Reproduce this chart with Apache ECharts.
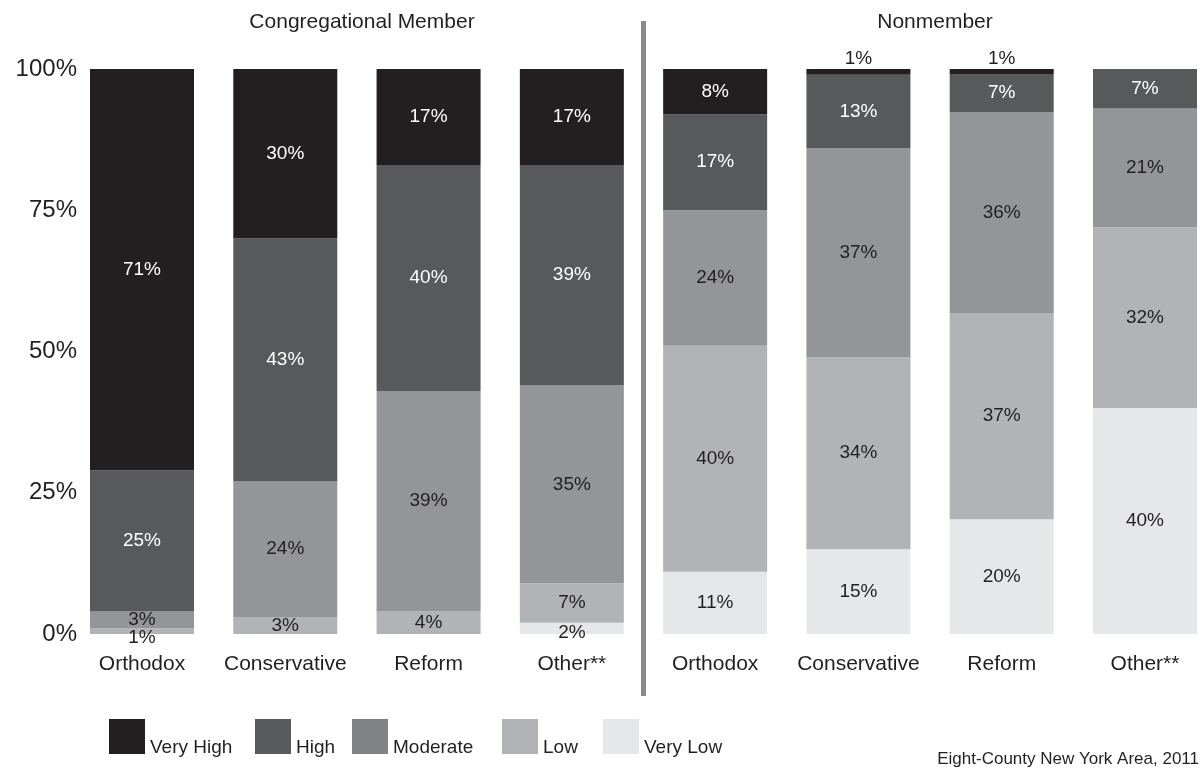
<!DOCTYPE html>
<html>
<head>
<meta charset="utf-8">
<script src="https://cdn.jsdelivr.net/npm/echarts@6/dist/echarts.min.js"></script>
<style>
html,body{margin:0;padding:0;background:#fff;}
#chart{width:1202px;height:768px;}
</style>
</head>
<body>
<div id="chart"></div>
<script>
// ---- data ----
const categories = ['Orthodox', 'Conservative', 'Reform', 'Other**', 'Orthodox', 'Conservative', 'Reform', 'Other**'];
const groupTitles = ['Congregational Member', 'Nonmember'];
const levels = ['Very High', 'High', 'Moderate', 'Low', 'Very Low'];
const veryHigh = [71, 30, 17, 17, 8, 1, 0.9, 0];
const high     = [25, 43, 40, 39, 17, 13, 6.7, 7];
const moderate = [3, 24, 39, 35, 24, 37, 35.6, 21];
const low      = [1, 3, 4, 7, 40, 34, 36.5, 32];
const veryLow  = [0, 0, 0, 2, 11, 15, 20.3, 40];
const yTicks = [0, 25, 50, 75, 100];
const footnote = 'Eight-County New York Area, 2011';

// ---- style ----
const FONT = '"Liberation Sans", Arial, sans-serif';
const DARK = '#231f20';
const barColors = ['#231f20', '#58595b', '#939598', '#b1b3b6', '#e6e7e8'];
const legendColors = ['#231f20', '#58595b', '#808285', '#b1b3b6', '#e6e7e8'];
const labelColors = ['#ffffff', '#ffffff', DARK, DARK, DARK];
const seriesValues = [veryHigh, high, moderate, low, veryLow];
const legendLeft = [109, 255, 352, 502, 603];

// per-item label tweaks for tiny segments
const labelTweaks = {
  0: {5: {position: 'top', distance: 1, color: DARK}, 6: {position: 'top', distance: 1, color: DARK}},
  3: {0: {offset: [0, 7]}},
  4: {3: {offset: [0, 4]}}
};

const series = seriesValues.map((vals, si) => ({
  name: levels[si],
  type: 'bar',
  stack: 'total',
  barWidth: 104,
  clip: false,
  itemStyle: {color: barColors[si]},
  label: {
    show: true,
    position: 'inside',
    color: labelColors[si],
    fontFamily: FONT,
    fontSize: 19,
    formatter: p => p.value ? Math.round(p.value) + '%' : ''
  },
  emphasis: {disabled: true},
  data: vals.map((v, i) => {
    const t = labelTweaks[si] && labelTweaks[si][i];
    return t ? {value: v, label: t} : v;
  })
})).reverse(); // stack from Very Low (bottom) to Very High (top)

const chart = echarts.init(document.getElementById('chart'), null, {renderer: 'canvas'});
const option = {
  animation: false,
  backgroundColor: '#ffffff',
  grid: {left: 142, top: 69, right: 57, height: 565, containLabel: false},
  title: [
    {text: groupTitles[0], left: 357, top: 7, textAlign: 'center',
     textStyle: {fontFamily: FONT, fontSize: 21, fontWeight: 'normal', color: DARK}},
    {text: groupTitles[1], left: 930, top: 7, textAlign: 'center',
     textStyle: {fontFamily: FONT, fontSize: 21, fontWeight: 'normal', color: DARK}},
    {text: footnote, left: 1194, top: 746, textAlign: 'right',
     textStyle: {fontFamily: FONT, fontSize: 17, fontWeight: 'normal', color: DARK}}
  ],
  legend: levels.map((name, i) => ({
    data: [{name: name, itemStyle: {color: legendColors[i]}}],
    left: legendLeft[i],
    top: 719,
    padding: 0,
    itemWidth: 36,
    itemHeight: 35,
    icon: 'rect',
    selectedMode: false,
    formatter: '{t|{name}}',
    textStyle: {
      fontFamily: FONT, fontSize: 19, color: DARK,
      rich: {t: {fontFamily: FONT, fontSize: 19, color: DARK, padding: [22, 0, 0, 0]}}
    }
  })),
  xAxis: {
    type: 'category',
    data: categories,
    boundaryGap: false,
    axisLine: {show: false},
    axisTick: {show: false},
    axisLabel: {fontFamily: FONT, fontSize: 21, color: DARK, margin: 20, interval: 0}
  },
  yAxis: {
    type: 'value',
    min: yTicks[0],
    max: yTicks[yTicks.length - 1],
    interval: 25,
    splitLine: {show: false},
    axisLine: {show: false},
    axisTick: {show: false},
    axisLabel: {fontFamily: FONT, fontSize: 24, color: DARK, margin: 65, formatter: '{value}%',
                padding: [4, 0, 0, 0]}
  },
  series: series
};
chart.setOption(option);

// separator between the two groups
const x3 = chart.convertToPixel({xAxisIndex: 0}, 3);
const x4 = chart.convertToPixel({xAxisIndex: 0}, 4);
const sepX = (x3 + x4) / 2;
chart.setOption({
  graphic: [{
    type: 'line',
    shape: {x1: sepX, y1: 21, x2: sepX, y2: 696},
    style: {stroke: '#8a8b8e', lineWidth: 5}
  }]
});
</script>
</body>
</html>
